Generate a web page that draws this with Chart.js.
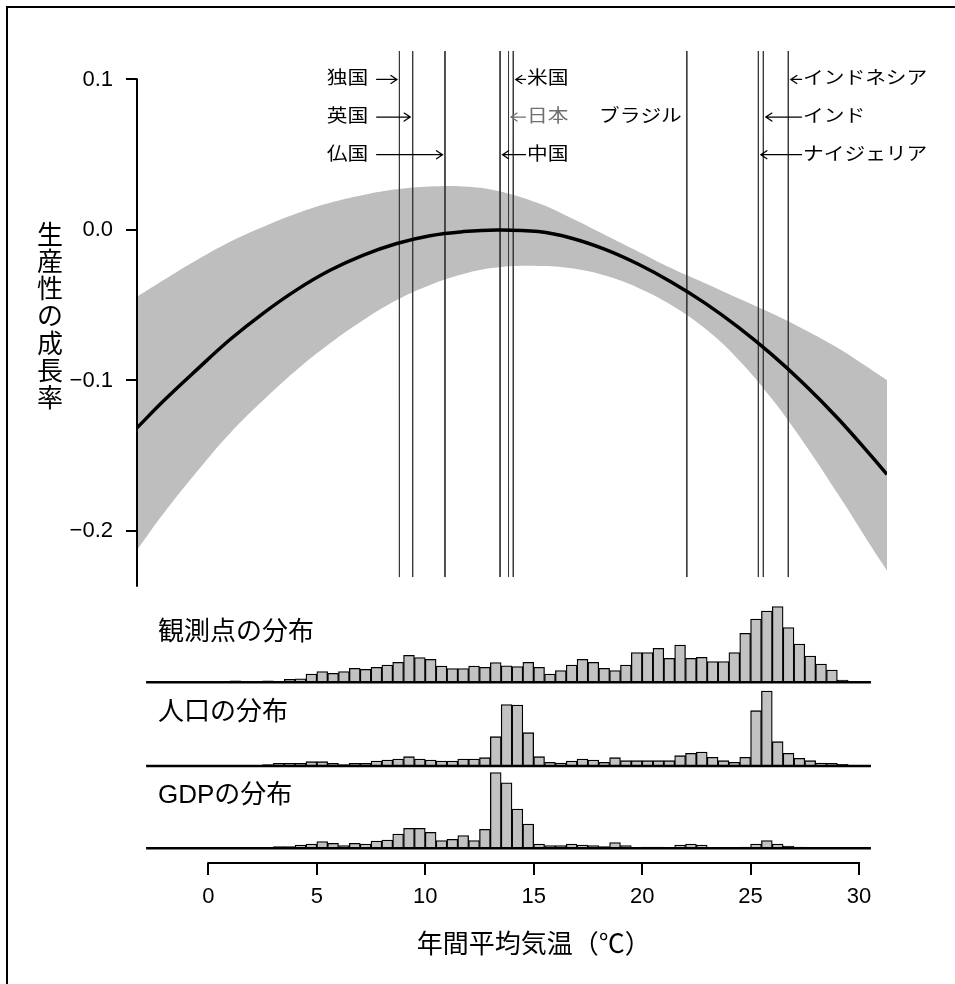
<!DOCTYPE html>
<html>
<head>
<meta charset="utf-8">
<script src="https://cdn.jsdelivr.net/npm/chart.js@4.4.1/dist/chart.umd.min.js"></script>
<style>
html,body{margin:0;padding:0;background:#fff;}
#wrap{width:955px;height:984px;position:relative;}
canvas{display:block;}
</style>
</head>
<body>
<div id="wrap"><canvas id="c" width="955" height="984"></canvas></div>
<script>
// ---------------- data ----------------
const curveTemps  = [-3.29, -2.06, -0.53, 1.0, 2.54, 4.07, 5.61, 7.15, 8.69, 10.22, 11.76, 13.3, 15.22, 16.75, 18.29, 19.83, 21.36, 22.9, 24.43, 25.97, 27.51, 29.05, 30.59, 31.29];
const curveGrowth = [-0.1315, -0.1135, -0.0928, -0.0728, -0.0552, -0.0398, -0.0268, -0.0167, -0.009, -0.0038, -0.0011, 0.0, -0.0011, -0.0055, -0.0129, -0.0228, -0.0347, -0.0486, -0.0646, -0.0827, -0.103, -0.1256, -0.1506, -0.1624];
const bandUpper   = [-0.0443, -0.0332, -0.0199, -0.0078, 0.0022, 0.011, 0.0181, 0.0233, 0.027, 0.0288, 0.0288, 0.026, 0.0177, 0.0078, -0.0033, -0.0144, -0.0255, -0.0354, -0.0454, -0.0554, -0.0664, -0.0786, -0.093, -0.0997];
const bandLower   = [-0.2126, -0.1882, -0.1606, -0.135, -0.113, -0.093, -0.0753, -0.0598, -0.0465, -0.0365, -0.0292, -0.025, -0.0239, -0.0255, -0.0303, -0.0385, -0.05, -0.0655, -0.086, -0.112, -0.1425, -0.176, -0.211, -0.2262];

const countryNames = ['独国', '英国', '仏国', '中国', '日本', '米国', 'ブラジル', 'ナイジェリア', 'インド', 'インドネシア'];
const countryTemps = [8.81, 9.42, 10.91, 13.45, 13.84, 14.06, 22.06, 25.36, 25.59, 26.74];

const binStarts = [-1, -0.5, 0, 0.5, 1, 1.5, 2, 2.5, 3, 3.5, 4, 4.5, 5, 5.5, 6, 6.5, 7, 7.5, 8, 8.5, 9, 9.5, 10, 10.5, 11, 11.5, 12, 12.5, 13, 13.5, 14, 14.5, 15, 15.5, 16, 16.5, 17, 17.5, 18, 18.5, 19, 19.5, 20, 20.5, 21, 21.5, 22, 22.5, 23, 23.5, 24, 24.5, 25, 25.5, 26, 26.5, 27, 27.5, 28, 28.5, 29];
const binWidth = 0.5;
const histObs = [0, 1, 0, 1, 1.5, 0, 0, 1.5, 0.5, 3, 3.5, 8.3, 10.7, 9, 10.7, 14, 13, 15, 17.3, 20, 27, 24.7, 23, 16.3, 13.7, 13.7, 16.3, 15, 19.7, 16.5, 15.7, 20, 15, 8.3, 11.7, 17.3, 23, 20, 14, 11.7, 17.3, 29.7, 29.7, 34, 24, 37.3, 24, 25, 20.7, 20.7, 29.7, 49, 63.3, 71.3, 75.7, 54.7, 38.3, 26.3, 18.3, 12.3, 2.3];
const histPop = [0, 0, 0, 0, 0, 0, 0, 1.3, 2.7, 2.7, 2.7, 4.3, 4.3, 2.7, 1.3, 2.7, 2.7, 5, 6, 7, 9.3, 7, 6, 5, 5, 7, 7, 8.3, 29.3, 61.5, 61, 33.3, 9.3, 3.7, 3, 5, 7, 6, 3.7, 8.3, 5.3, 5.3, 5.3, 5.3, 5.3, 10.3, 12.7, 14, 8.7, 5.3, 3.7, 8.7, 55.3, 75, 24.3, 12.7, 7.7, 5.3, 3, 2.7, 1.7];
const histGdp = [0, 0, 0, 0, 0, 0, 0, 0, 1.7, 1.7, 3.3, 4.3, 6.7, 5, 2.7, 5, 4.3, 7.3, 8.3, 14.3, 20, 20, 16, 7.7, 9, 12.7, 7.7, 19, 75.7, 65.5, 39.3, 24.3, 4.3, 2.7, 2.7, 4.3, 3.3, 2.7, 1.7, 5.7, 2.7, 0.7, 1.3, 1.3, 0.7, 3.3, 4.3, 3.3, 0.3, 0, 0, 1.3, 4.3, 7.7, 4.3, 2.3, 1.3, 0.3, 0, 0, 0];
const histRange = [-2.87, 30.55];
const histTitles = ['観測点の分布', '人口の分布', 'GDPの分布'];

const xTicks = [0, 5, 10, 15, 20, 25, 30];
const yTicks = [0.1, 0.0, -0.1, -0.2];
const xTitle = '年間平均気温（℃）';
const yTitle = '生産性の成長率';

// ---------------- layout / style (not data) ----------------
const xRange = [-3.29, 31.29];
const yRange = [-0.4206, 0.1189];
const yAxisSpan = [0.1, -0.237];
const vlineSpan = [0.119, -0.2306];
const labelRows = [0.1, 0.075, 0.05];
const histScales = [[-180.7, 631.3], [-97, 715], [-14.7, 797.3]];
const histTitleLift = [49, 53, 52];
// label placement per country: [row, group]
const countryLayout = [[0,'L'], [1,'L'], [2,'L'], [2,'M'], [1,'M'], [0,'M'], [1,'B'], [2,'R'], [1,'R'], [0,'R']];
const groupText = {L: 5.46, M: 14.69, R: 27.42};
const leftArrowTail = 7.76;

const FONT = '"Liberation Sans", "Noto Sans CJK JP", sans-serif';
const BAND = '#bebebe';
const BARFILL = '#c2c2c2';

const pts = (xs, ys) => xs.map((t, i) => ({x: t, y: ys[i]}));
const histPts = hs => binStarts.map((b, i) => ({x: b + binWidth / 2, y: hs[i]})).filter(p => p.y > 0);

const datasets = [
  {type:'line', data: pts(curveTemps, bandUpper), yAxisID:'y', borderColor:'rgba(0,0,0,0)', borderWidth:1,
   backgroundColor: BAND, fill:'+1', order:10, tension:0.4},
  {type:'line', data: pts(curveTemps, bandLower), yAxisID:'y', borderColor:'rgba(0,0,0,0)', borderWidth:1,
   fill:false, order:10, tension:0.4},
];
countryTemps.forEach((t, i) => {
  datasets.push({type:'line', data:[{x:t, y:vlineSpan[0]}, {x:t, y:vlineSpan[1]}], yAxisID:'y',
    borderColor: '#3a3a3a', borderWidth:1, fill:false, order:8});
});
datasets.push({type:'line', data: pts(curveTemps, curveGrowth), yAxisID:'y', borderColor:'#000', borderWidth:3.5,
  fill:false, order:5, tension:0.4});
[histObs, histPop, histGdp].forEach((h, k) => {
  datasets.push({type:'bar', data: histPts(h), yAxisID:'h' + (k + 1), backgroundColor: BARFILL, borderColor:'#000',
    borderWidth:1.3, barPercentage:1, categoryPercentage:1, grouped:false, order:4});
  datasets.push({type:'line', data:[{x:histRange[0], y:0}, {x:histRange[1], y:0}], yAxisID:'h' + (k + 1),
    borderColor:'#000', borderWidth:2.5, fill:false, order:1});
});

function drawArrow(ctx, x1, y, x2, color) {
  const dir = Math.sign(x2 - x1) || 1;
  ctx.save();
  ctx.strokeStyle = color; ctx.lineWidth = 1.3; ctx.lineCap = 'round';
  ctx.beginPath();
  ctx.moveTo(x1, y); ctx.lineTo(x2, y);
  ctx.moveTo(x2 - dir * 6, y - 4); ctx.lineTo(x2, y); ctx.lineTo(x2 - dir * 6, y + 4);
  ctx.stroke();
  ctx.restore();
}
function drawLabel(ctx, text, px, py, align, color) {
  ctx.save();
  ctx.translate(px, py); ctx.scale(1.15, 1);
  ctx.font = '18px ' + FONT; ctx.fillStyle = color;
  ctx.textAlign = align; ctx.textBaseline = 'middle';
  ctx.fillText(text, 0, 0);
  ctx.restore();
}

const annot = {
  id: 'annot',
  afterDraw(chart) {
    const ctx = chart.ctx, xs = chart.scales.x, ys = chart.scales.y, area = chart.chartArea;
    ctx.save();
    // outer frame (top and left edges are visible in the picture)
    ctx.strokeStyle = '#000'; ctx.lineWidth = 2;
    ctx.beginPath();
    ctx.moveTo(7, chart.height); ctx.lineTo(7, 7); ctx.lineTo(chart.width, 7);
    ctx.stroke();
    // y axis line
    ctx.beginPath();
    ctx.moveTo(area.left, ys.getPixelForValue(yAxisSpan[0]) - 1);
    ctx.lineTo(area.left, ys.getPixelForValue(yAxisSpan[1]));
    // x axis line
    ctx.moveTo(xs.getPixelForValue(xTicks[0]) - 1, area.bottom);
    ctx.lineTo(xs.getPixelForValue(xTicks[xTicks.length - 1]) + 1, area.bottom);
    ctx.stroke();

    // y title (stacked characters)
    ctx.fillStyle = '#000'; ctx.font = '26px ' + FONT;
    ctx.textAlign = 'center'; ctx.textBaseline = 'middle';
    Array.from(yTitle).forEach((ch, i) => ctx.fillText(ch, 50, 237 + i * 27.1));
    // x title
    ctx.fillText(xTitle, (xs.getPixelForValue(xTicks[0]) + xs.getPixelForValue(xTicks[xTicks.length - 1])) / 2, 946);
    // histogram titles
    ctx.textAlign = 'left';
    histTitles.forEach((t, k) => {
      const s = chart.scales['h' + (k + 1)];
      ctx.fillText(t, 158, s.getPixelForValue(0) - histTitleLift[k]);
    });

    // country labels and arrows
    countryNames.forEach((name, i) => {
      const [row, grp] = countryLayout[i];
      const py = ys.getPixelForValue(labelRows[row]);
      const lx = xs.getPixelForValue(countryTemps[i]);
      const color = name === '日本' ? '#707070' : '#000';
      if (grp === 'L') {
        drawLabel(ctx, name, xs.getPixelForValue(groupText.L), py, 'left', color);
        drawArrow(ctx, xs.getPixelForValue(leftArrowTail), py, lx - 2.5, color);
      } else if (grp === 'B') {
        drawLabel(ctx, name, lx - 5, py, 'right', color);
      } else {
        const tx = xs.getPixelForValue(groupText[grp]);
        drawLabel(ctx, name, tx, py, 'left', color);
        drawArrow(ctx, tx - 1.5, py, lx + 2.5, color);
      }
    });
    ctx.restore();
  }
};

const TICKFONT = {family: '"Liberation Sans", Arial, sans-serif', size: 22};
const fmtY = v => v === 0 ? '0.0' : (v < 0 ? '\u2212' : '') + Math.abs(v).toFixed(1);

new Chart(document.getElementById('c'), {
  type: 'line',
  data: {datasets},
  options: {
    responsive: false, animation: false, devicePixelRatio: 1,
    layout: {padding: {top: 51, left: 0, right: 68, bottom: 0}},
    elements: {point: {radius: 0, hoverRadius: 0}},
    plugins: {legend: {display: false}, tooltip: {enabled: false}},
    events: [],
    scales: {
      x: {
        type: 'linear', position: 'bottom', min: xRange[0], max: xRange[1], offset: false, bounds: 'data',
        afterBuildTicks: s => { s.ticks = xTicks.map(v => ({value: v})); },
        afterFit: s => { s.height = 121; },
        border: {display: false},
        grid: {drawOnChartArea: false, drawTicks: true, tickLength: 12, color: '#000', lineWidth: 2, offset: false},
        ticks: {color: '#000', font: TICKFONT, padding: 9, maxRotation: 0, minRotation: 0, autoSkip: false,
                callback: v => String(v)}
      },
      y: {
        type: 'linear', position: 'left', min: yRange[0], max: yRange[1], bounds: 'data',
        afterBuildTicks: s => { s.ticks = yTicks.map(v => ({value: v})); },
        afterFit: s => { s.width = 137; },
        border: {display: false},
        grid: {drawOnChartArea: false, drawTicks: true, tickLength: 11, color: '#000', lineWidth: 2},
        ticks: {color: '#000', font: TICKFONT, padding: 13, autoSkip: false, callback: v => fmtY(v)}
      },
      h1: {type: 'linear', display: false, min: histScales[0][0], max: histScales[0][1], bounds: 'data'},
      h2: {type: 'linear', display: false, min: histScales[1][0], max: histScales[1][1], bounds: 'data'},
      h3: {type: 'linear', display: false, min: histScales[2][0], max: histScales[2][1], bounds: 'data'}
    }
  },
  plugins: [annot]
});
</script>
</body>
</html>
